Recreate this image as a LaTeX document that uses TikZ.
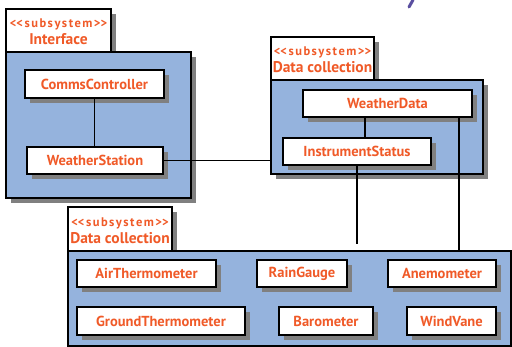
\documentclass[tikz,border=0pt]{standalone}
\usepackage{fontspec}
\setmainfont{PT Sans}[Ligatures=NoCommon]
\newfontfamily\stfont{PT Sans}[LetterSpace=12]
\usetikzlibrary{shadows,calc}
\definecolor{pkgblue}{HTML}{95B3DD}
\definecolor{lbl}{HTML}{F05A28}
\definecolor{shd}{HTML}{808080}
\definecolor{pen}{HTML}{5A4FA0}
\tikzset{
  shadowed/.style={drop shadow={shadow xshift=5pt,shadow yshift=-5pt,opacity=1,fill=shd}},
  pkg/.style={draw=black,line width=1.6pt,fill=pkgblue,shadowed,inner sep=0pt},
  tab/.style={draw=black,line width=1.6pt,fill=white,shadowed,inner sep=0pt},
  cls/.style={draw=black,line width=1.6pt,fill=white,shadowed,inner sep=0pt,
    minimum height=27pt,text=lbl,font=\fontsize{14.5}{16}\selectfont\bfseries},
  tabtxt/.style={text=lbl,align=center,inner sep=0pt,
    font=\fontsize{15.5}{17}\selectfont\bfseries},
  conn/.style={draw=black,line width=1.6pt},
}
\newcommand{\stereo}{{\stfont\fontsize{12.5}{13}\selectfont\bfseries <\kern0pt<subsystem>\kern0pt>}}
\begin{document}
\begin{tikzpicture}[x=1pt,y=-1pt]
\useasboundingbox (0,0) rectangle (512,347);
% purple stroke at top
\draw[pen,line width=3pt,line cap=round] (409,7) -- (413,0);
% Interface package
\node[tab,minimum width=105pt,minimum height=43pt] (itab) at (58.5,30.5) {};
\node[tabtxt] (itabtxt) at (58.5,32) {\stereo\\Interface};
\node[pkg,minimum width=185pt,minimum height=146pt] (ipkg) at (98.5,125) {};
\node[cls,minimum width=139pt,minimum height=28pt] (cc) at (94.5,84) {CommsController};
\node[cls,minimum width=136pt] (ws) at (95,160.5) {WeatherStation};
% Data collection package (upper)
\node[tab,minimum width=103pt,minimum height=43pt] (dtab) at (322.5,58.5) {};
\node[tabtxt] (dtabtxt) at (322.5,60) {\stereo\\Data collection};
\node[pkg,minimum width=212pt,minimum height=94pt] (dpkg) at (377,127) {};
\node[cls,minimum width=169pt] (wd) at (387.5,103.5) {WeatherData};
\node[cls,minimum width=148pt] (is) at (357,151.5) {InstrumentStatus};
% Data collection package (lower)
\node[tab,minimum width=104pt,minimum height=44pt] (etab) at (120,229) {};
\node[tabtxt] (etabtxt) at (120,230.5) {\stereo\\Data collection};
\node[pkg,minimum width=443pt,minimum height=95pt] (epkg) at (289.5,298.5) {};
\node[cls,minimum width=139pt] (air) at (146.5,273.5) {AirThermometer};
\node[cls,minimum width=90pt] (rain) at (302,273.5) {RainGauge};
\node[cls,minimum width=108pt] (anemo) at (442,273.5) {Anemometer};
\node[cls,minimum width=168pt,minimum height=28pt] (ground) at (161,321) {GroundThermometer};
\node[cls,minimum width=94pt,minimum height=28pt] (baro) at (326,321) {Barometer};
\node[cls,minimum width=89pt,minimum height=28pt] (vane) at (451.5,321) {WindVane};
% connectors
\draw[conn] (cc.south) -- (cc.south |- ws.north);
\draw[conn] (ws.east) -- (dpkg.west |- ws.east);
\draw[conn] ([xshift=8pt]is.north) -- ([xshift=8pt]is.north |- wd.south);
\coordinate (isend) at (357,244);
\draw[conn] (is.south) -- (isend);
\draw[conn] ([xshift=71.5pt]wd.south) -- ([xshift=71.5pt]wd.south |- epkg.north);
\end{tikzpicture}
\end{document}
